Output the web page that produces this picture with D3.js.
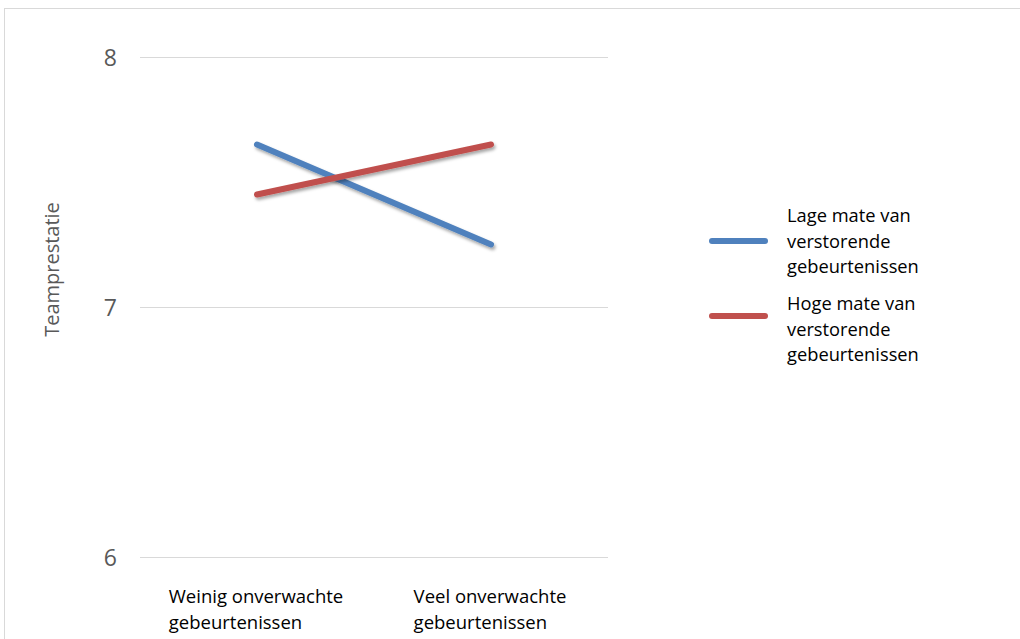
<!DOCTYPE html>
<html>
<head>
<meta charset="utf-8">
<script src="https://cdn.jsdelivr.net/npm/d3@7"></script>
<style>
  html, body { margin: 0; padding: 0; background: #fff; }
  svg { display: block; }
</style>
</head>
<body>
<svg id="chart" width="1020" height="639"></svg>
<script>
// Categories on the x axis (each label wraps onto two lines)
const categories = ["Weinig onverwachte gebeurtenissen", "Veel onverwachte gebeurtenissen"];
const categoryLines = [["Weinig onverwachte", "gebeurtenissen"], ["Veel onverwachte", "gebeurtenissen"]];

// Teamprestatie per series
const lageMate = [7.65, 7.25];
const hogeMate = [7.45, 7.65];

const seriesNames = [
  ["Lage mate van", "verstorende", "gebeurtenissen"],
  ["Hoge mate van", "verstorende", "gebeurtenissen"]
];
const seriesColors = ["#4F81BD", "#C0504D"];
const yTicks = [6, 7, 8];
const yTitle = "Teamprestatie";

const svg = d3.select("#chart");
const font = "'Open Sans', sans-serif";

// outer chart frame
svg.append("rect")
  .attr("x", 4.5).attr("y", 8.5)
  .attr("width", 1030).attr("height", 700)
  .attr("fill", "none").attr("stroke", "#d9d9d9").attr("stroke-width", 1);

// soft shadow under the lines
const defs = svg.append("defs");
const f = defs.append("filter").attr("id", "shadow")
  .attr("x", "-20%").attr("y", "-20%").attr("width", "140%").attr("height", "160%");
f.append("feDropShadow")
  .attr("dx", 1.5).attr("dy", 2.5).attr("stdDeviation", 1.8)
  .attr("flood-color", "#000").attr("flood-opacity", 0.35);

const plotLeft = 140, plotRight = 608;
const x = d3.scalePoint().domain(categories).range([plotLeft, plotRight]).padding(0.5);
const y = d3.scaleLinear().domain([6, 8]).range([557, 57]);

// horizontal gridlines + tick labels
const yAxis = d3.axisLeft(y).tickValues(yTicks).tickSize(-(plotRight - plotLeft)).tickPadding(23)
  .tickFormat(d3.format("d"));
const gy = svg.append("g").attr("transform", `translate(${plotLeft},0)`).call(yAxis);
gy.select(".domain").remove();
gy.selectAll(".tick line").attr("stroke", "#d9d9d9").attr("stroke-width", 1);
gy.selectAll(".tick text")
  .attr("fill", "#595959")
  .attr("font-family", font)
  .attr("font-size", 23)
  .attr("dy", "0.36em");

// y axis title
svg.append("text")
  .attr("transform", `translate(59,${y(7.15)}) rotate(-90)`)
  .attr("text-anchor", "middle")
  .attr("fill", "#595959")
  .attr("font-family", font)
  .attr("font-size", 20)
  .text(yTitle);

// category labels: left-aligned block centred under each category
categories.forEach((c, i) => {
  const t = svg.append("text")
    .attr("fill", "#000")
    .attr("font-family", font)
    .attr("font-size", 18.5);
  categoryLines[i].forEach((ln, j) => {
    t.append("tspan").attr("x", 0).attr("y", 603 + j * 26).text(ln);
  });
  const w = t.node().getBBox().width;
  t.attr("transform", `translate(${x(c) - w / 2 - 1},0)`);
});

// series lines
const line = d3.line().x((d, i) => x(categories[i])).y(d => y(d));
[lageMate, hogeMate].forEach((vals, k) => {
  svg.append("path")
    .datum(vals)
    .attr("d", line)
    .attr("fill", "none")
    .attr("stroke", seriesColors[k])
    .attr("stroke-width", 6)
    .attr("stroke-linecap", "round")
    .attr("filter", "url(#shadow)");
});

// legend
const legendLineY = [241, 316];
const legendTextTop = [222, 310];
seriesNames.forEach((lines, k) => {
  svg.append("line")
    .attr("x1", 712).attr("x2", 765)
    .attr("y1", legendLineY[k]).attr("y2", legendLineY[k])
    .attr("stroke", seriesColors[k])
    .attr("stroke-width", 6)
    .attr("stroke-linecap", "round");
  const t = svg.append("text")
    .attr("fill", "#000")
    .attr("font-family", font)
    .attr("font-size", 18.3);
  lines.forEach((ln, j) => {
    t.append("tspan").attr("x", 787).attr("y", legendTextTop[k] + j * 25.7).text(ln);
  });
});
</script>
</body>
</html>
